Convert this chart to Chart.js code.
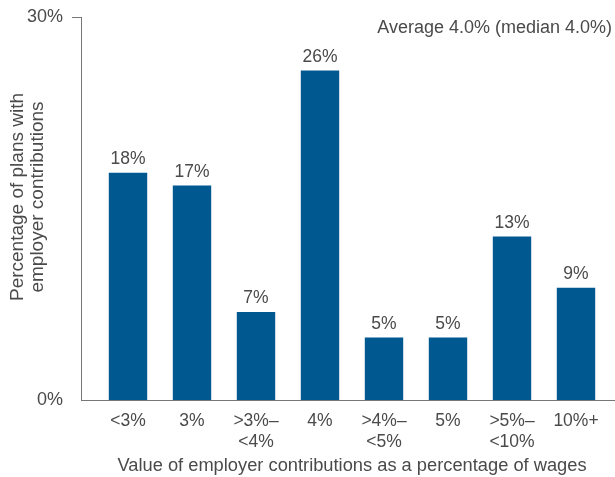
<!DOCTYPE html>
<html>
<head>
<meta charset="utf-8">
<script src="https://cdn.jsdelivr.net/npm/chart.js@4/dist/chart.umd.min.js"></script>
<style>
    html, body { margin: 0; padding: 0; background: #fff; }
    #wrap { width: 615px; height: 477px; position: relative; }
</style>
</head>
<body>
<div id="wrap"><canvas id="chart"></canvas></div>
<script>
// Categories (multi-line labels as arrays)
const categories = [
    '<3%', '3%', ['>3%–', '<4%'], '4%', ['>4%–', '<5%'], '5%', ['>5%–', '<10%'], '10%+'
];
// Share of plans (%)
const planShares = [17.8, 16.8, 6.9, 25.8, 4.9, 4.9, 12.8, 8.8];
// Y ticks shown
const yTicks = [0, 30];

const summaryText = 'Average 4.0% (median 4.0%)';
const yTitleLines = ['Percentage of plans with', 'employer contributions'];
const fontFamily = '"Liberation Sans", Arial, sans-serif';
const textColor = '#4a4a4a';
const barColor = '#005891';
const axisColor = '#777';

// Axis lines, data labels, y title and the summary note
const decorPlugin = {
    id: 'decor',
    afterDatasetsDraw(chart) {
        const ctx = chart.ctx;
        const area = chart.chartArea;
        const yScale = chart.scales.y;
        const axisX = area.left - 15;

        ctx.save();
        ctx.strokeStyle = axisColor;
        ctx.lineWidth = 1;
        ctx.beginPath();
        const topY = Math.round(yScale.getPixelForValue(30)) + 0.5;
        // y axis line
        ctx.moveTo(axisX + 0.5, topY);
        ctx.lineTo(axisX + 0.5, area.bottom);
        // x axis line
        ctx.moveTo(axisX, area.bottom + 0.5);
        ctx.lineTo(chart.width, area.bottom + 0.5);
        // top tick
        ctx.moveTo(axisX - 9, topY);
        ctx.lineTo(axisX + 1, topY);
        ctx.stroke();

        // value labels
        ctx.fillStyle = textColor;
        ctx.font = '17.5px ' + fontFamily;
        ctx.textAlign = 'center';
        ctx.textBaseline = 'bottom';
        const meta = chart.getDatasetMeta(0);
        meta.data.forEach((bar, i) => {
            ctx.fillText(Math.round(planShares[i]) + '%', bar.x, bar.y - 5);
        });

        // summary note
        ctx.font = '18px ' + fontFamily;
        ctx.textAlign = 'right';
        ctx.textBaseline = 'middle';
        ctx.fillText(summaryText, 612, 28);

        // y axis title, two rotated lines
        ctx.font = '19px ' + fontFamily;
        ctx.textAlign = 'center';
        ctx.textBaseline = 'middle';
        ctx.translate(18, 197);
        ctx.rotate(-Math.PI / 2);
        ctx.fillText(yTitleLines[0], 0, 0);
        ctx.fillText(yTitleLines[1], 0, 20);
        ctx.restore();
    }
};

const ctx = document.getElementById('chart').getContext('2d');
const chart = new Chart(ctx, {
    type: 'bar',
    data: {
        labels: categories,
        datasets: [{
            data: planShares,
            backgroundColor: barColor,
            borderWidth: 0,
            barPercentage: 0.6,
            categoryPercentage: 1.0
        }]
    },
    options: {
        responsive: true,
        maintainAspectRatio: false,
        animation: false,
        layout: {
            padding: { top: 17, right: 7, bottom: 0, left: 0 }
        },
        plugins: {
            legend: { display: false },
            tooltip: { enabled: false }
        },
        scales: {
            x: {
                grid: { display: false, drawTicks: false },
                border: { display: false },
                ticks: {
                    color: textColor,
                    font: { family: fontFamily, size: 17.5 },
                    padding: 11,
                    maxRotation: 0,
                    autoSkip: false
                },
                title: {
                    display: true,
                    text: 'Value of employer contributions as a percentage of wages',
                    color: textColor,
                    font: { family: fontFamily, size: 18.3 },
                    padding: { top: 9, bottom: 0 }
                },
                afterFit(scale) {
                    scale.height = 77;
                }
            },
            y: {
                min: 0,
                max: 30,
                grid: { display: false, drawTicks: false },
                border: { display: false },
                afterBuildTicks(scale) {
                    scale.ticks = yTicks.map(v => ({ value: v }));
                },
                ticks: {
                    color: textColor,
                    font: { family: fontFamily, size: 18 },
                    padding: 33,
                    callback: v => v + '%'
                },
                afterFit(scale) {
                    scale.width = 96;
                    scale.paddingTop = 0;
                    scale.paddingBottom = 0;
                }
            }
        }
    },
    plugins: [decorPlugin]
});
</script>
</body>
</html>
